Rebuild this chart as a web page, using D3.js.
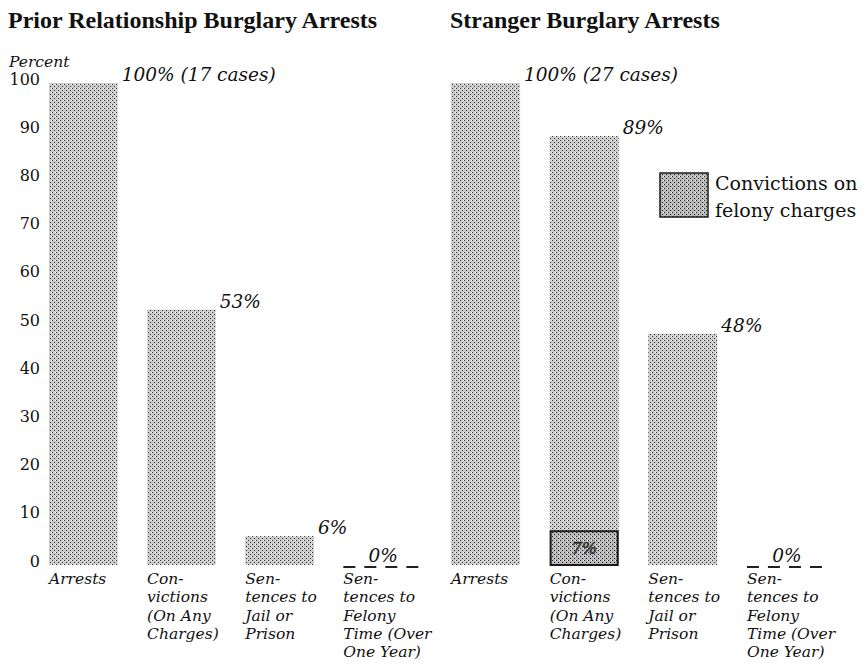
<!DOCTYPE html>
<html lang="en">
<head>
  <meta charset="UTF-8">
  <script src="https://d3js.org/d3.v7.min.js"></script>
  <style>
    body { margin: 0; background: #fff; }
    svg { display: block; }
    .title { font-family: "Liberation Serif", serif; font-weight: bold; font-size: 24px; fill: #111; }
    .tick text { font-family: "DejaVu Serif", serif; font-size: 16px; fill: #111; }
    .ital { font-family: "DejaVu Serif", serif; font-style: italic; fill: #111; }
    .legend { font-family: "DejaVu Serif", serif; font-size: 19px; fill: #111; }
  </style>
</head>
<body>
<div id="chart"></div>
<script>
// chart data
const panelTitles = ["Prior Relationship Burglary Arrests", "Stranger Burglary Arrests"];
const categories = ["Arrests", "Convictions", "Jail", "Felony"];
const categoryLines = [
  ["Arrests"],
  ["Con-", "victions", "(On Any", "Charges)"],
  ["Sen-", "tences to", "Jail or", "Prison"],
  ["Sen-", "tences to", "Felony", "Time (Over", "One Year)"]
];
const priorValues = [100, 53, 6, 0];
const strangerValues = [100, 89, 48, 0];
const priorLabels = ["100% (17 cases)", "53%", "6%", "0%"];
const strangerLabels = ["100% (27 cases)", "89%", "48%", "0%"];
const strangerFelony = [0, 7, 0, 0];
const felonyLabels = ["", "7%", "", ""];
const yTicks = [0, 10, 20, 30, 40, 50, 60, 70, 80, 90, 100];

const width = 865, height = 664;

const svg = d3.select('#chart').append('svg')
  .attr('width', width)
  .attr('height', height);

// halftone-ish fills
const defs = svg.append('defs');
function stipple(id, base, dot) {
  const p = defs.append('pattern')
    .attr('id', id)
    .attr('width', 4).attr('height', 4)
    .attr('patternUnits', 'userSpaceOnUse');
  p.append('rect').attr('width', 4).attr('height', 4).attr('fill', base);
  p.append('rect').attr('x', 0).attr('y', 0).attr('width', 1).attr('height', 1).attr('fill', dot);
  p.append('rect').attr('x', 2).attr('y', 2).attr('width', 1).attr('height', 1).attr('fill', dot);
  p.append('rect').attr('x', 3).attr('y', 0).attr('width', 1).attr('height', 1).attr('fill', '#eee');
}
stipple('dots', '#cbcbcb', '#3a3a3a');
stipple('dotsDark', '#b9b9b9', '#2a2a2a');

const y = d3.scaleLinear().domain([0, 100]).range([565, 83]);

const panels = [
  { title: panelTitles[0], titleX: 8, values: priorValues, labels: priorLabels, felony: null, range: [49, 412] },
  { title: panelTitles[1], titleX: 450, values: strangerValues, labels: strangerLabels, felony: strangerFelony, range: [451, 816] }
];

// y axis (left only)
const axis = svg.append('g')
  .attr('transform', 'translate(40,-4)')
  .call(d3.axisLeft(y).tickValues(yTicks).tickSize(0).tickPadding(0));
axis.select('.domain').remove();

svg.append('text')
  .attr('class', 'ital')
  .attr('x', 9).attr('y', 67)
  .style('font-size', '15.5px')
  .text('Percent');

panels.forEach(p => {
  const x = d3.scaleBand().domain(categories).range(p.range).paddingInner(0.3).paddingOuter(0);
  const g = svg.append('g');

  g.append('text')
    .attr('class', 'title')
    .attr('x', p.titleX).attr('y', 28)
    .text(p.title);

  const rows = categories.map((c, i) => ({ c, v: p.values[i], label: p.labels[i], lines: categoryLines[i], f: p.felony ? p.felony[i] : 0, fl: felonyLabels[i] }));

  g.selectAll('rect.bar')
    .data(rows.filter(d => d.v > 0))
    .join('rect')
    .attr('class', 'bar')
    .attr('x', d => x(d.c))
    .attr('y', d => y(d.v))
    .attr('width', x.bandwidth())
    .attr('height', d => y(0) - y(d.v))
    .attr('fill', 'url(#dots)');

  // zero bars shown as dashes
  g.selectAll('line.zero')
    .data(rows.filter(d => d.v === 0))
    .join('line')
    .attr('class', 'zero')
    .attr('x1', d => x(d.c))
    .attr('x2', d => x(d.c) + x.bandwidth() + 11)
    .attr('y1', y(0) + 2).attr('y2', y(0) + 2)
    .attr('stroke', '#222')
    .attr('stroke-width', 2)
    .attr('stroke-dasharray', '12,9');

  // value labels
  g.selectAll('text.val')
    .data(rows)
    .join('text')
    .attr('class', 'ital val')
    .style('font-size', '18.5px')
    .attr('x', d => d.v === 0 ? x(d.c) + (x.bandwidth() + 11) / 2 : x(d.c) + x.bandwidth() + 4)
    .attr('y', d => d.v === 0 ? y(0) - 3 : y(d.v) - 2)
    .attr('text-anchor', d => d.v === 0 ? 'middle' : 'start')
    .text(d => d.label);

  // felony convictions inset
  if (p.felony) {
    const fr = rows.filter(d => d.f > 0);
    g.selectAll('rect.fel')
      .data(fr)
      .join('rect')
      .attr('class', 'fel')
      .attr('x', d => x(d.c) + 1)
      .attr('y', d => y(d.f))
      .attr('width', x.bandwidth() - 2)
      .attr('height', d => y(0) - y(d.f))
      .attr('fill', 'url(#dotsDark)')
      .attr('stroke', '#1a1a1a')
      .attr('stroke-width', 2);
    g.selectAll('text.fel')
      .data(fr)
      .join('text')
      .attr('class', 'ital fel')
      .style('font-size', '16px')
      .attr('x', d => x(d.c) + x.bandwidth() / 2)
      .attr('y', d => y(d.f / 2) + 6)
      .attr('text-anchor', 'middle')
      .attr('fill', '#f4f4f4')
      .attr('stroke', '#444')
      .attr('stroke-width', 0.7)
      .text(d => d.fl);
  }

  // category labels
  const cat = g.selectAll('text.cat')
    .data(rows)
    .join('text')
    .attr('class', 'ital cat')
    .style('font-size', '15.5px')
    .attr('x', d => x(d.c))
    .attr('y', 584);
  cat.selectAll('tspan')
    .data(d => d.lines.map(l => ({ l, x: x(d.c) })))
    .join('tspan')
    .attr('x', d => d.x)
    .attr('dy', (d, i) => i === 0 ? 0 : 18.3)
    .text(d => d.l);
});

// legend
svg.append('rect')
  .attr('x', 660).attr('y', 173)
  .attr('width', 48).attr('height', 44)
  .attr('fill', 'url(#dotsDark)')
  .attr('stroke', '#1a1a1a')
  .attr('stroke-width', 1.5);
svg.append('text').attr('class', 'legend').attr('x', 715).attr('y', 190).text('Convictions on');
svg.append('text').attr('class', 'legend').attr('x', 715).attr('y', 217).text('felony charges');
</script>
</body>
</html>
